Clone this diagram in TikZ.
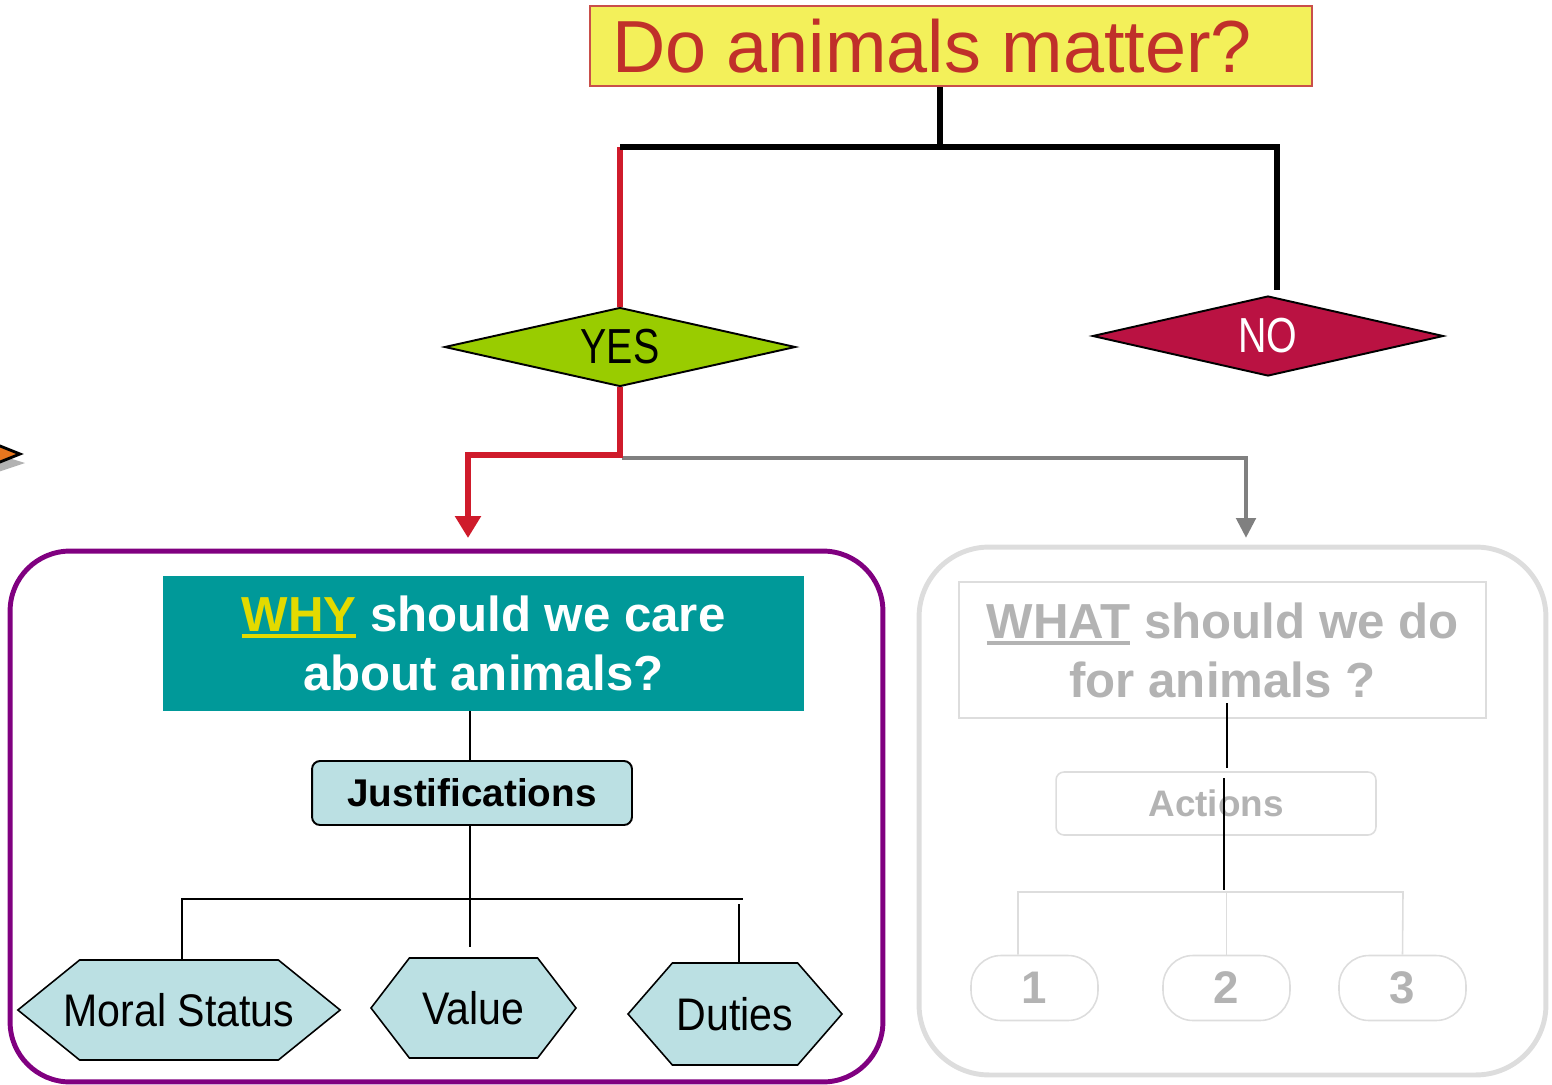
\documentclass[tikz,border=0pt]{standalone}
\usepackage{fontspec}
\setmainfont{Liberation Sans}
\newfontfamily\narrowfont[FakeStretch=0.8]{Liberation Sans}
\newfontfamily\hexfont[FakeStretch=0.9]{Liberation Sans}
\usetikzlibrary{shapes.geometric, shapes.symbols, arrows.meta}
\usetikzlibrary{positioning}

\definecolor{titleyellow}{HTML}{F3F05A}
\definecolor{titlered}{HTML}{C0302A}
\definecolor{yesgreen}{HTML}{99CC00}
\definecolor{nocrimson}{HTML}{BA1242}
\definecolor{whyteal}{HTML}{009999}
\definecolor{whyyellow}{HTML}{E3DA00}
\definecolor{lightcyan}{HTML}{BBE0E3}
\definecolor{forkred}{HTML}{CF1B2B}
\definecolor{forkgray}{HTML}{808080}
\definecolor{framepurple}{HTML}{800080}
\definecolor{framegray}{HTML}{DDDDDD}
\definecolor{fadedtext}{HTML}{B3B3B3}
\definecolor{arroworange}{HTML}{E8761E}

% thick underline that takes the current colour
\newcommand{\heavyul}[1]{\setbox0=\hbox{#1}\rlap{\rule[-3.8pt]{\wd0}{2.2pt}}\box0\relax}

\tikzstyle{title_box} = [
    rectangle,
    draw=titlered!85,
    line width=0.9pt,
    fill=titleyellow,
    text=titlered,
    font=\fontsize{42}{48}\selectfont,
    inner sep=0pt,
    minimum width=14.44cm,
    minimum height=1.6cm
]
\tikzstyle{yes_node} = [
    diamond,
    aspect=4.4,
    draw=black,
    line width=1.1pt,
    fill=yesgreen,
    font=\narrowfont\fontsize{28}{28}\selectfont,
    inner sep=0pt,
    minimum width=7.02cm,
    minimum height=1.58cm
]
\tikzstyle{no_node} = [
    yes_node,
    fill=nocrimson,
    text=white,
    minimum height=1.6cm
]
\tikzstyle{why_frame} = [
    rectangle,
    rounded corners=1.2cm,
    draw=framepurple,
    line width=2.8pt,
    minimum width=17.46cm,
    minimum height=10.62cm
]
\tikzstyle{what_frame} = [
    why_frame,
    rounded corners=1.4cm,
    draw=framegray,
    minimum width=12.54cm,
    minimum height=10.56cm
]
\tikzstyle{why_box} = [
    rectangle,
    fill=whyteal,
    text=white,
    font=\bfseries\fontsize{28}{33.5}\selectfont,
    align=center,
    inner sep=0pt,
    minimum width=12.82cm,
    minimum height=2.7cm
]
\tikzstyle{what_box} = [
    why_box,
    fill=none,
    draw=framegray,
    line width=0.9pt,
    text=fadedtext,
    minimum width=10.54cm,
    minimum height=2.72cm
]
\tikzstyle{just_node} = [
    rectangle,
    rounded corners=0.16cm,
    draw=black,
    line width=1.1pt,
    fill=lightcyan,
    font=\bfseries\fontsize{22}{22}\selectfont,
    inner sep=0pt,
    minimum width=6.4cm,
    minimum height=1.28cm
]
\tikzstyle{act_node} = [
    just_node,
    draw=framegray,
    line width=0.9pt,
    fill=none,
    text=fadedtext,
    font=\bfseries\fontsize{21}{21}\selectfont,
    minimum height=1.26cm
]
\tikzstyle{hex_node} = [
    signal,
    signal to=east and west,
    draw=black,
    line width=0.9pt,
    fill=lightcyan,
    font=\hexfont\fontsize{26}{26}\selectfont,
    inner sep=0pt,
    minimum height=2cm
]
\tikzstyle{num_node} = [
    rectangle,
    rounded corners=0.6cm,
    draw=framegray,
    line width=0.9pt,
    text=fadedtext,
    font=\bfseries\fontsize{26}{26}\selectfont,
    inner sep=0pt,
    minimum width=2.54cm,
    minimum height=1.3cm
]
\tikzstyle{black_line} = [draw=black, line width=3.6pt]
\tikzstyle{red_line} = [draw=forkred, line width=3.4pt]
\tikzstyle{red_arrow} = [red_line, -{Triangle[length=0.44cm, width=0.5cm]}]
\tikzstyle{gray_arrow} = [draw=forkgray, line width=2.8pt, -{Triangle[length=0.4cm, width=0.38cm]}]
\tikzstyle{tree_line} = [draw=black, line width=1.1pt]
\tikzstyle{faded_line} = [draw=framegray, line width=0.9pt]

\begin{document}
\begin{tikzpicture}[x=0.02cm, y=-0.02cm]
\useasboundingbox (0,0) rectangle (1552,1085);

% the two frames
\node [why_frame] (whyframe) at (446.5,816.5) {};
\node [what_frame] (whatframe) at (1232.5,811) {};

% marker cut off by the left edge
\fill [gray!60] (-20,449) -- (25,463) -- (-20,478) -- cycle;
\filldraw [fill=arroworange, draw=black, line width=1.6pt] (-20,438) -- (20,454) -- (-20,470) -- cycle;

% question and answers
\node [title_box] (title) at (951,46) {Do animals matter?\hspace*{0.76cm}};
\node [yes_node] (yes) at (620,347) {YES};
\node [no_node] (no) at (1268,336) {NO};

\coordinate (split) at (940,147);
\coordinate (splitl) at (620,147);
\coordinate (splitr) at (1277,147);
\coordinate (noin) at (1277,290);
\draw [red_line] (splitl) -- (yes.north);
\draw [black_line] (title.south -| split) -- (split);
\draw [black_line] (splitl) -- (splitr) -- (noin);

\coordinate (yfork) at (620,455);
\coordinate (gfork) at (622,458);
\coordinate (whyin) at (468,538);
\coordinate (whatin) at (1246,538);
\draw [gray_arrow] (gfork) -| (whatin);
\draw [red_arrow] (yes.south) -- (yfork) -| (whyin);

% why branch
\node [why_box] (why) at (483.5,643.5) {{\color{whyyellow}\heavyul{WHY}} should we care\\about animals?};
\node [just_node] (just) at (472,793) {Justifications};
\node [hex_node, minimum width=6.44cm, inner xsep=-0.32cm, signal pointer angle=78] (moral) at (179,1010) {Moral Status};
\node [hex_node, minimum width=4.1cm, signal pointer angle=105] (value) at (473.5,1008) {Value};
\node [hex_node, minimum width=4.28cm, minimum height=2.04cm, signal pointer angle=98] (duties) at (735,1014) {Duties};

\coordinate (jl) at (182,899);
\coordinate (jr) at (743,899);
\coordinate (jm) at (470,947);
\coordinate (jd) at (739,904);
\draw [tree_line] (why.south -| jm) -- (just.north -| jm);
\draw [tree_line] (moral.north -| jl) -- (jl) -- (jr);
\draw [tree_line] (just.south -| jm) -- (jm);
\draw [tree_line] (jd) -- (jd |- duties.north);

% what branch
\node [what_box] (what) at (1222.5,650) {\heavyul{WHAT} should we do\\for animals ?};
\node [act_node] (act) at (1216,803.5) {Actions};
\node [num_node] (n1) at (1034.5,988) {1};
\node [num_node] (n2) at (1226.5,988) {2};
\node [num_node] (n3) at (1402.5,988) {3};

\coordinate (al) at (1018,892);
\coordinate (ar) at (1403,892);
\draw [faded_line] (al |- n1.north) -- (al) -- (ar) -- (n3.north);
\draw [faded_line] (n2.north) -- (n2.north |- al);

\coordinate (wa) at (1227,703);
\coordinate (wb) at (1227,768);
\coordinate (wc) at (1224,778);
\coordinate (wd) at (1224,890);
\draw [tree_line] (wa) -- (wb);
\draw [tree_line] (wc) -- (wd);
\end{tikzpicture}
\end{document}
